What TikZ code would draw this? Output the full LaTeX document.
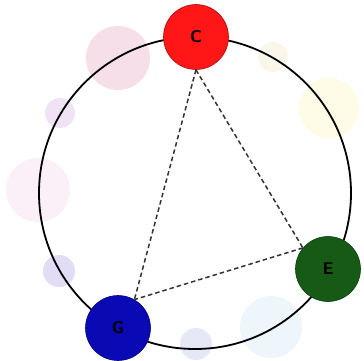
\documentclass[tikz,border=0pt]{standalone}
\usepackage{tikz}
\usetikzlibrary{positioning}
\definecolor{noteRed}{HTML}{FF1616}
\definecolor{noteGreen}{HTML}{165A16}
\definecolor{noteBlue}{HTML}{0A0AB4}
\definecolor{blobPink}{HTML}{F6DFE8}
\definecolor{blobRose}{HTML}{FBEFF8}
\definecolor{blobViolet}{HTML}{F1E3F6}
\definecolor{blobLavender}{HTML}{E2DCF6}
\definecolor{blobBlue}{HTML}{E5E8F7}
\definecolor{blobCyan}{HTML}{EEF6FC}
\definecolor{blobYellow}{HTML}{FEFCE6}
\definecolor{blobBeige}{HTML}{FBF6EA}

\begin{document}
\begin{tikzpicture}[x=1pt, y=-1pt,
    note/.style={circle, draw=#1!70!black, line width=0.6pt, fill=#1,
                 minimum size=65pt, inner sep=0pt,
                 font=\fontsize{17}{17}\selectfont\sffamily\bfseries},
    link/.style={dashed, dash pattern=on 4.5pt off 3pt, line width=1.5pt,
                 draw=black!80},
  ]
    \useasboundingbox (0,0) rectangle (364,361);
    % faint blobs for the other notes
    \fill[blobPink]     (118,58)  circle (32);
    \fill[blobBeige]    (273,57)  circle (15);
    \fill[blobYellow]   (329,108) circle (30);
    \fill[blobViolet]   (60,113)  circle (15);
    \fill[blobRose]     (38,190)  circle (32);
    \fill[blobLavender] (59,271)  circle (16);
    \fill[blobCyan]     (271,327) circle (31);
    \fill[blobBlue]     (196,344) circle (16);

    \node[circle, draw, line width=1.8pt, minimum size=312pt] (ring) at (195,193) {};

    \node[note=noteRed]   (C) at (196,37)  {C};
    \node[note=noteGreen] (E) at (328,269) {E};
    \node[note=noteBlue]  (G) at (118,328) {G};

    \draw[link] (C.south) -- (E.140);
    \draw[link] (C.south) -- (G.60);
    \draw[link] (E.140) -- (G.60);
  \end{tikzpicture}
\end{document}
